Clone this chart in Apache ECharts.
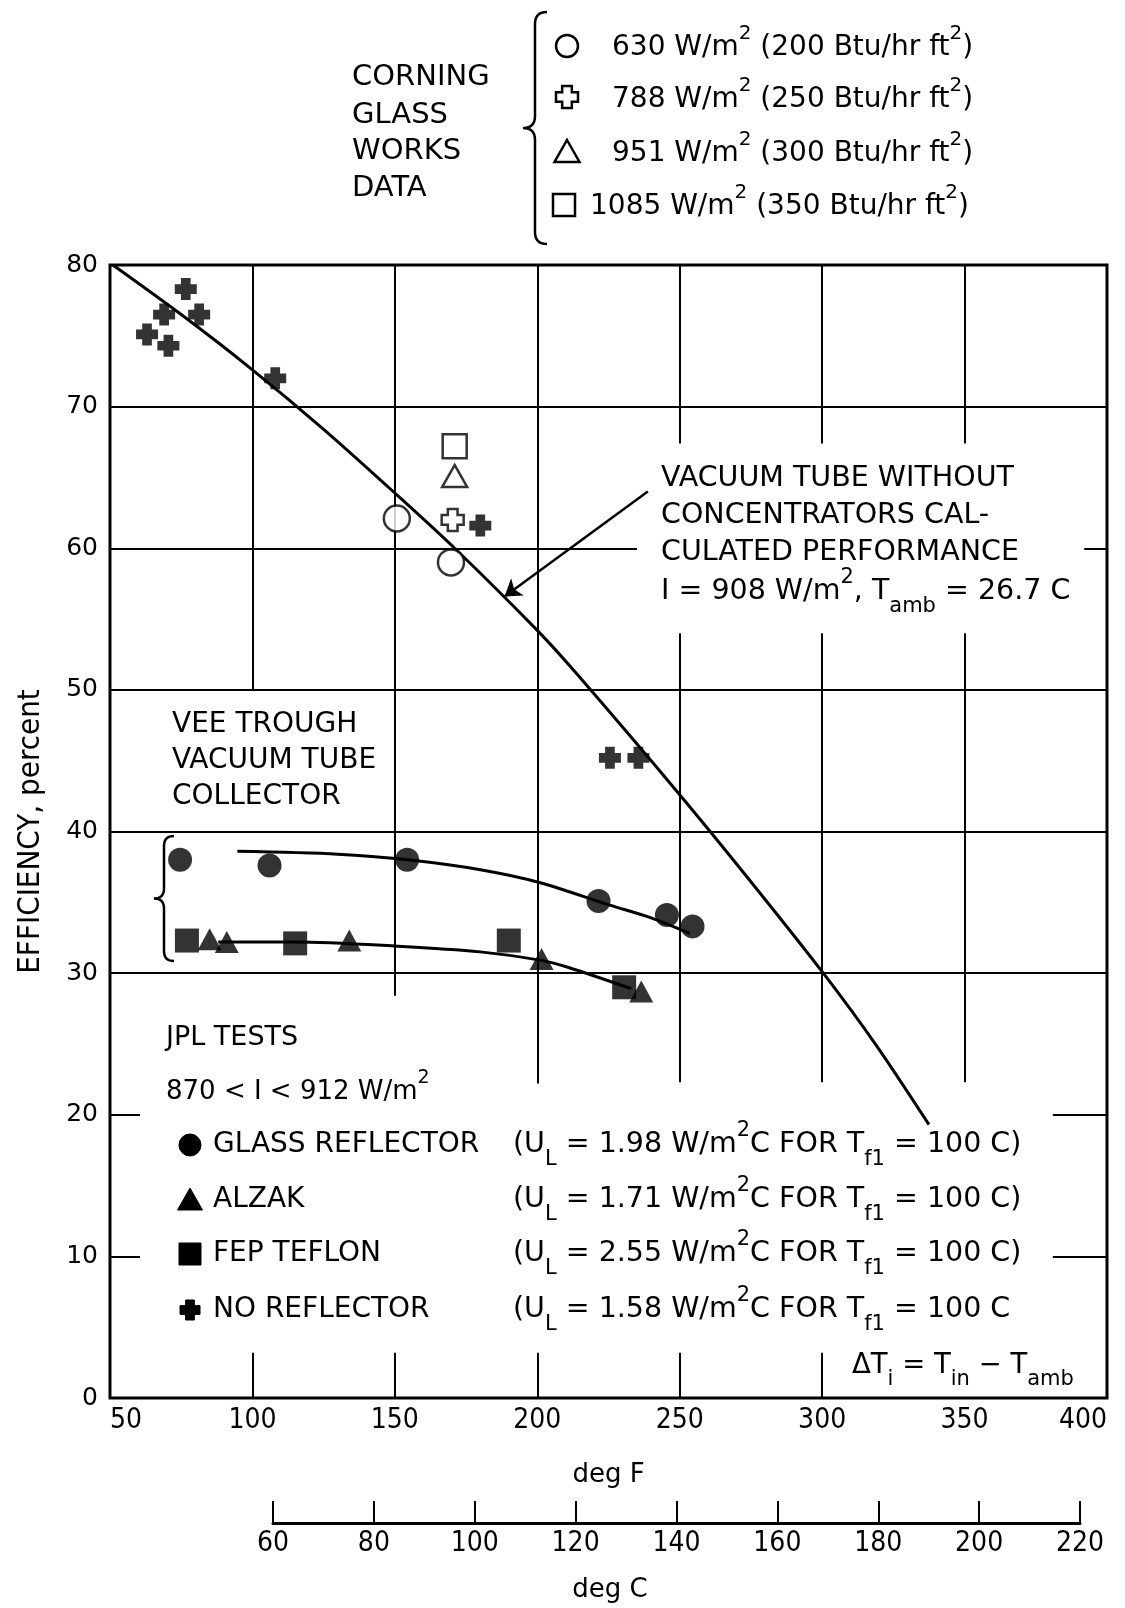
<!DOCTYPE html>
<html><head><meta charset="utf-8">
<script src="https://cdn.jsdelivr.net/npm/echarts@6/dist/echarts.min.js"></script>
<style>html,body{margin:0;padding:0;background:#fff}#c{width:1125px;height:1608px}</style>
</head><body><div id="c"></div>
<script>
// ---------------- data ----------------
const xTicksF = [50, 100, 150, 200, 250, 300, 350, 400];
const xTicksC = [60, 80, 100, 120, 140, 160, 180, 200, 220];
const yTicks = [0, 10, 20, 30, 40, 50, 60, 70, 80];

// calculated performance curve (vacuum tube without concentrators)
const calcX = [51, 75, 100, 125, 150, 171, 200, 214, 250, 274, 300, 319, 337.5];
const calcY = [80, 76.5, 72.6, 68.4, 63.9, 60.0, 54.2, 51.1, 42.6, 36.7, 30.1, 24.9, 19.3];
// fitted curve through glass reflector points
const glassFitX = [94.7, 130, 154.5, 180, 200.7, 225.5, 240, 253.5];
const glassFitY = [38.6, 38.4, 38.0, 37.3, 36.4, 34.8, 33.9, 32.8];
// fitted curve through alzak / teflon points
const alzakFitX = [88, 115, 151, 180, 201.5, 211, 233];
const alzakFitY = [32.2, 32.2, 31.9, 31.5, 30.9, 30.4, 28.9];

// JPL tests
const glassX = [74.6, 106, 154.3, 221.5, 245.5, 254.5];
const glassY = [38.0, 37.6, 38.0, 35.1, 34.1, 33.3];
const alzakX = [85, 91, 134, 201.5, 236.5];
const alzakY = [32.4, 32.2, 32.3, 31.0, 28.7];
const teflonX = [77, 115, 190, 230.5];
const teflonY = [32.3, 32.1, 32.3, 29.0];
const noReflX = [63, 69, 70.5, 76.6, 81.3, 108, 180, 225.5, 235.5];
const noReflY = [75.1, 76.5, 74.3, 78.3, 76.5, 72.0, 61.6, 45.2, 45.2];

// Corning Glass Works data
const c630X = [150.7, 169.7];
const c630Y = [62.1, 59.0];
const c788X = [170.3];
const c788Y = [62.0];
const c951X = [171];
const c951Y = [65.1];
const c1085X = [171];
const c1085Y = [67.2];

// arrow from annotation to curve [x, y]
const arrowFrom = [238.8, 64.0];
const arrowTo = [188.5, 56.6];

// partial grid lines as drawn in the original: [xFrom, xTo, y] and [x, yFrom, yTo]
const hSegments = [[50,400,70],[50,235,60],[392,400,60],[50,400,50],[50,400,40],[50,400,30],
                   [50,60.5,20],[381,400,20],[50,60.5,10],[381,400,10]];
const vSegments = [[100,50,80],[150,28.4,80],[200,22.2,80],
                   [250,67.4,80],[250,22.3,54],[300,67.4,80],[300,22.3,54],[350,67.4,80],[350,22.3,54],
                   [100,0,3.2],[150,0,3.2],[200,0,3.2],[250,0,3.2],[300,0,3.2]];

// ---------------- helpers ----------------
const zip = (xs, ys) => xs.map((x, i) => [x, ys[i]]);
const FONT = '"DejaVu Sans", sans-serif';
const NARROW = '"Liberation Sans Narrow", "DejaVu Sans Condensed", sans-serif';
const crossPath = 'path://M2.8,0H7.2V2.8H10V7.2H7.2V10H2.8V7.2H0V2.8H2.8Z';
const ctx = document.createElement('canvas').getContext('2d');
function tw(t, size, fam) { ctx.font = size + 'px ' + fam; return ctx.measureText(t).width; }
function rich(x, y, segs, size, fam) {
  fam = fam || FONT;
  const els = []; let cx = x;
  segs.forEach(s => {
    let t = s, kind = 'n';
    if (Array.isArray(s)) { t = s[0]; kind = s[1]; }
    let fs = size, dy = 0;
    if (kind === 'sup') { fs = Math.round(size * 0.72); dy = -size * 0.52; }
    if (kind === 'sub') { fs = Math.round(size * 0.75); dy = size * 0.5; }
    els.push({ type: 'text', x: cx, y: y + dy, z: 20, silent: true,
      style: { text: t, fontSize: fs, fontFamily: fam, fill: '#000', align: 'left', verticalAlign: 'middle' } });
    cx += tw(t, fs, fam);
  });
  return els;
}
function quad(p0, p1, p2, n) {
  const pts = [];
  for (let i = 0; i <= n; i++) {
    const t = i / n, u = 1 - t;
    pts.push([u * u * p0[0] + 2 * u * t * p1[0] + t * t * p2[0], u * u * p0[1] + 2 * u * t * p1[1] + t * t * p2[1]]);
  }
  return pts;
}
function bracePts(x, y1, y2, w) {
  const ym = (y1 + y2) / 2, r = w;
  return [].concat(
    quad([x + r, y1], [x, y1], [x, y1 + r], 8),
    quad([x, ym - r], [x, ym], [x - r, ym], 8),
    quad([x - r, ym], [x, ym], [x, ym + r], 8),
    quad([x, y2 - r], [x, y2], [x + r, y2], 8));
}
function crossPts(cx, cy, s) {
  const a = s * 0.22, b = s * 0.5;
  return [[cx - a, cy - b], [cx + a, cy - b], [cx + a, cy - a], [cx + b, cy - a], [cx + b, cy + a], [cx + a, cy + a],
          [cx + a, cy + b], [cx - a, cy + b], [cx - a, cy + a], [cx - b, cy + a], [cx - b, cy - a], [cx - a, cy - a]];
}
function triPts(cx, cy, w, h) { return [[cx, cy - h / 2], [cx + w / 2, cy + h / 2], [cx - w / 2, cy + h / 2]]; }

const filled = { fill: '#000', stroke: '#000', lineWidth: 1 };
const hollow = { fill: '#fff', stroke: '#000', lineWidth: 2.5 };
const braceStyle = { fill: null, stroke: '#000', lineWidth: 2.5 };

// ---------------- graphic annotations ----------------
let g = [];
// Corning legend
[['CORNING', 77], ['GLASS', 115], ['WORKS', 151], ['DATA', 188]].forEach(([t, y]) => g.push(...rich(352, y, [t], 29)));
g.push({ type: 'polyline', shape: { points: bracePts(535, 12, 244, 12) }, style: braceStyle, z: 20 });
g.push({ type: 'circle', shape: { cx: 567, cy: 46, r: 11 }, style: hollow, z: 20 });
g.push({ type: 'polygon', shape: { points: crossPts(567, 97, 22) }, style: hollow, z: 20 });
g.push({ type: 'polygon', shape: { points: triPts(567, 151, 25, 22) }, style: hollow, z: 20 });
g.push({ type: 'rect', shape: { x: 553, y: 194, width: 22, height: 22 }, style: hollow, z: 20 });
g.push(...rich(612, 48, ['630 W/m', ['2', 'sup'], ' (200 Btu/hr ft', ['2', 'sup'], ')'], 28));
g.push(...rich(612, 100, ['788 W/m', ['2', 'sup'], ' (250 Btu/hr ft', ['2', 'sup'], ')'], 28));
g.push(...rich(612, 154, ['951 W/m', ['2', 'sup'], ' (300 Btu/hr ft', ['2', 'sup'], ')'], 28));
g.push(...rich(590, 207, ['1085 W/m', ['2', 'sup'], ' (350 Btu/hr ft', ['2', 'sup'], ')'], 28));

// annotation for calculated curve
g.push(...rich(661, 479, ['VACUUM TUBE WITHOUT'], 28.5));
g.push(...rich(661, 516, ['CONCENTRATORS CAL-'], 28.5));
g.push(...rich(661, 553, ['CULATED PERFORMANCE'], 28.5));
g.push(...rich(661, 592, ['I = 908 W/m', ['2', 'sup'], ', T', ['amb', 'sub'], ' = 26.7 C'], 28.5));

// vee trough
g.push(...rich(172, 725, ['VEE TROUGH'], 28));
g.push(...rich(172, 761, ['VACUUM TUBE'], 28));
g.push(...rich(172, 797, ['COLLECTOR'], 28));
g.push({ type: 'polyline', shape: { points: bracePts(164, 836, 961, 10) }, style: braceStyle, z: 20 });

// JPL tests legend
g.push(...rich(166, 1038, ['JPL TESTS'], 27));
g.push(...rich(166, 1092, ['870 < I < 912 W/m', ['2', 'sup']], 26));
g.push({ type: 'circle', shape: { cx: 190, cy: 1145, r: 11 }, style: filled, z: 20 });
g.push({ type: 'polygon', shape: { points: triPts(190, 1199, 25, 22) }, style: filled, z: 20 });
g.push({ type: 'rect', shape: { x: 179, y: 1243, width: 22, height: 22 }, style: filled, z: 20 });
g.push({ type: 'polygon', shape: { points: crossPts(190, 1310, 20) }, style: filled, z: 20 });
g.push(...rich(213, 1145, ['GLASS REFLECTOR'], 28));
g.push(...rich(213, 1200, ['ALZAK'], 28));
g.push(...rich(213, 1254, ['FEP TEFLON'], 28));
g.push(...rich(213, 1310, ['NO REFLECTOR'], 28));
g.push(...rich(513, 1145, ['(U', ['L', 'sub'], ' = 1.98 W/m', ['2', 'sup'], 'C FOR T', ['f1', 'sub'], ' = 100 C)'], 28.5));
g.push(...rich(513, 1200, ['(U', ['L', 'sub'], ' = 1.71 W/m', ['2', 'sup'], 'C FOR T', ['f1', 'sub'], ' = 100 C)'], 28.5));
g.push(...rich(513, 1254, ['(U', ['L', 'sub'], ' = 2.55 W/m', ['2', 'sup'], 'C FOR T', ['f1', 'sub'], ' = 100 C)'], 28.5));
g.push(...rich(513, 1310, ['(U', ['L', 'sub'], ' = 1.58 W/m', ['2', 'sup'], 'C FOR T', ['f1', 'sub'], ' = 100 C'], 28.5));
g.push(...rich(852, 1366, ['\u0394T', ['i', 'sub'], ' = T', ['in', 'sub'], ' \u2212 T', ['amb', 'sub']], 27.5));
// deg C title
g.push({ type: 'text', x: 610, y: 1590, z: 20, style: { text: 'deg C', fontSize: 26, fontFamily: FONT, fill: '#000', align: 'center', verticalAlign: 'middle' } });

// ---------------- chart ----------------
const chart = echarts.init(document.getElementById('c'), null, { renderer: 'canvas' });
const lineStyleBlack = { color: '#000', width: 3 };
const gridLines = hSegments.map(s => ({ coords: [[s[0], s[2]], [s[1], s[2]]] }))
  .concat(vSegments.map(s => ({ coords: [[s[0], s[1]], [s[0], s[2]]] })));

chart.setOption({
  animation: false,
  backgroundColor: '#fff',
  grid: [
    { left: 110, top: 265, width: 997, height: 1133, show: true, borderColor: '#000', borderWidth: 3, backgroundColor: 'transparent' },
    { left: 273, top: 1480, width: 807, height: 43, show: false }
  ],
  xAxis: [
    { gridIndex: 0, type: 'value', min: 50, max: 400, interval: 50,
      axisLine: { show: false }, axisTick: { show: false }, splitLine: { show: false },
      axisLabel: { color: '#000', fontSize: 28, fontFamily: NARROW, margin: 9, alignMinLabel: 'left', alignMaxLabel: 'right' },
      name: 'deg F', nameLocation: 'middle', nameGap: 64,
      nameTextStyle: { color: '#000', fontSize: 26, fontFamily: FONT } },
    { gridIndex: 1, type: 'value', min: 60, max: 220, interval: 20, position: 'bottom',
      axisLine: { show: true, lineStyle: { color: '#000', width: 3 } },
      axisTick: { show: true, inside: true, length: 22, lineStyle: { color: '#000', width: 2 } },
      splitLine: { show: false },
      axisLabel: { color: '#000', fontSize: 28, fontFamily: NARROW, margin: 7 } }
  ],
  yAxis: [
    { gridIndex: 0, type: 'value', min: 0, max: 80, interval: 10,
      axisLine: { show: false }, axisTick: { show: false }, splitLine: { show: false },
      axisLabel: { color: '#000', fontSize: 25, fontFamily: FONT, margin: 12 },
      name: 'EFFICIENCY, percent', nameLocation: 'middle', nameGap: 64, nameRotate: 90,
      nameTextStyle: { color: '#000', fontSize: 31, fontFamily: '"DejaVu Sans Condensed", "DejaVu Sans", sans-serif' } },
    { gridIndex: 1, type: 'value', min: 0, max: 1, show: false }
  ],
  series: [
    { name: 'grid', type: 'lines', coordinateSystem: 'cartesian2d', xAxisIndex: 0, yAxisIndex: 0, z: 1, silent: true,
      data: gridLines, lineStyle: { color: '#000', width: 2, opacity: 1 }, symbol: 'none' },
    { name: 'arrow', type: 'lines', coordinateSystem: 'cartesian2d', z: 4, silent: true,
      data: [{ coords: [arrowFrom, arrowTo] }], symbol: ['none', 'arrow'], symbolSize: 16,
      lineStyle: { color: '#000', width: 2.5, opacity: 1 } },
    { name: 'Calculated performance', type: 'line', data: zip(calcX, calcY), smooth: 0.3, symbol: 'none', lineStyle: lineStyleBlack, z: 3 },
    { name: 'Glass fit', type: 'line', data: zip(glassFitX, glassFitY), smooth: 0.3, symbol: 'none', lineStyle: lineStyleBlack, z: 3 },
    { name: 'Alzak fit', type: 'line', data: zip(alzakFitX, alzakFitY), smooth: 0.3, symbol: 'none', lineStyle: lineStyleBlack, z: 3 },
    { name: 'NO REFLECTOR', type: 'scatter', data: zip(noReflX, noReflY), symbol: crossPath, symbolSize: 22, itemStyle: { color: '#000' }, z: 5 },
    { name: 'GLASS REFLECTOR', type: 'scatter', data: zip(glassX, glassY), symbol: 'circle', symbolSize: 24, itemStyle: { color: '#000' }, z: 5 },
    { name: 'FEP TEFLON', type: 'scatter', data: zip(teflonX, teflonY), symbol: 'rect', symbolSize: 24, itemStyle: { color: '#000' }, z: 5 },
    { name: 'ALZAK', type: 'scatter', data: zip(alzakX, alzakY), symbol: 'triangle', symbolSize: [24, 22], itemStyle: { color: '#000' }, z: 5 },
    { name: '630 W/m2', type: 'scatter', data: zip(c630X, c630Y), symbol: 'circle', symbolSize: 26, itemStyle: { color: '#fff', borderColor: '#000', borderWidth: 2.5 }, z: 5 },
    { name: '788 W/m2', type: 'scatter', data: zip(c788X, c788Y), symbol: crossPath, symbolSize: 22, itemStyle: { color: '#fff', borderColor: '#000', borderWidth: 2.5 }, z: 5 },
    { name: '951 W/m2', type: 'scatter', data: zip(c951X, c951Y), symbol: 'triangle', symbolSize: [25, 22], itemStyle: { color: '#fff', borderColor: '#000', borderWidth: 2.5 }, z: 5 },
    { name: '1085 W/m2', type: 'scatter', data: zip(c1085X, c1085Y), symbol: 'rect', symbolSize: 24, itemStyle: { color: '#fff', borderColor: '#000', borderWidth: 2.5 }, z: 5 }
  ],
  graphic: g
});
</script></body></html>
